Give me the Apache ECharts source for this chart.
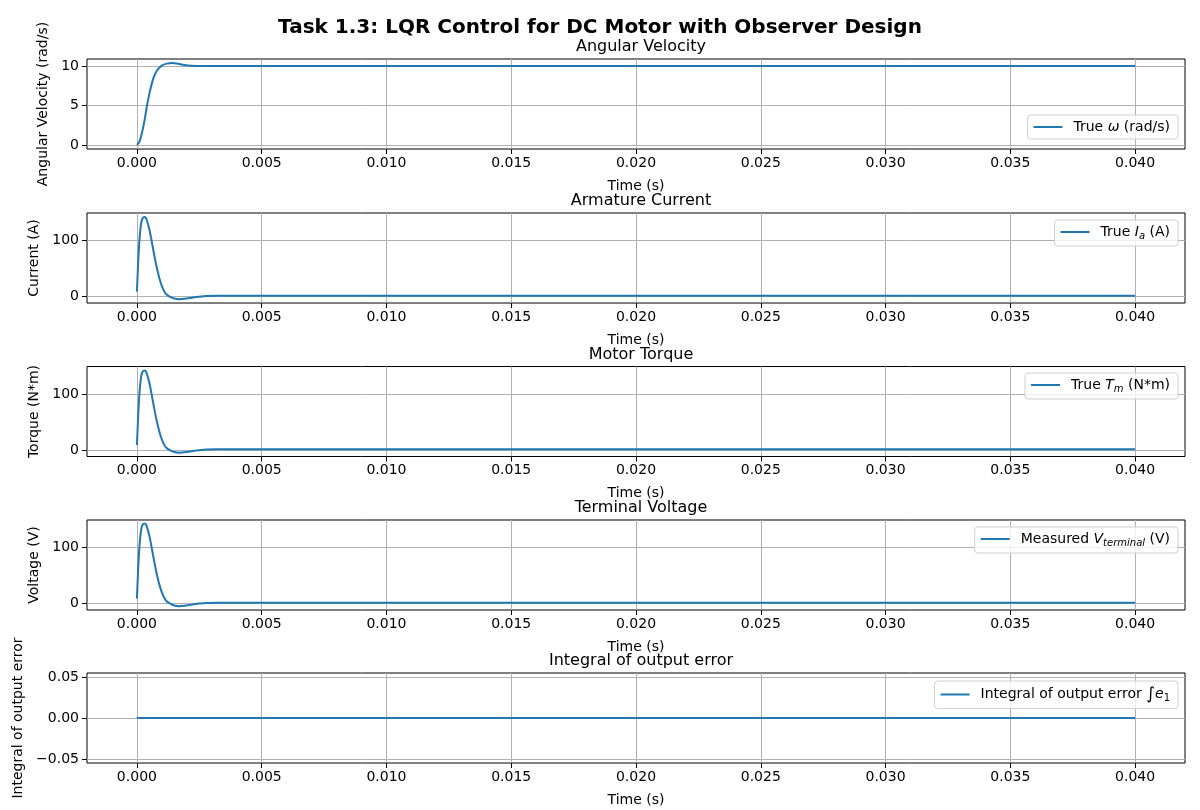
<!DOCTYPE html>
<html><head><meta charset="utf-8">
<script src="https://cdn.jsdelivr.net/npm/echarts@6/dist/echarts.min.js"></script>
<style>html,body{margin:0;padding:0;background:#fff}#c{width:1200px;height:810px}</style>
</head><body><div id="c"></div>
<script>
// ---- data (time in seconds) ----
const timeVel = [0,0.0001,0.0002,0.0003,0.0004,0.0005,0.0006,0.0007,0.0008,0.0009,0.0010,0.0011,0.0012,0.0013,0.0014,0.0015,0.0017,0.0019,0.0022,0.0026,0.0030,0.0040];
const velocity = [0,0.4,1.5,3.0,4.9,6.5,7.8,8.8,9.4,9.8,10.05,10.2,10.3,10.36,10.38,10.35,10.25,10.13,10.04,10.0,9.99,10.0];
const timeCur = [0,0.00005,0.0001,0.00015,0.0002,0.00025,0.0003,0.00035,0.0004,0.0005,0.0006,0.0007,0.0008,0.0009,0.0010,0.0011,0.0012,0.0013,0.0014,0.0015,0.0016,0.0017,0.0018,0.0020,0.0022,0.0025,0.0028,0.0032,0.0040];
const current = [9,60,100,125,137,141,142,141,136,120,97,73,51,33,19,9,3.5,0.5,-1.8,-3.3,-4.2,-4.5,-4.3,-3.2,-1.8,0,1.2,1.6,1.6];
const torque = [9,60,100,125,137,141,142,141,136,120,97,73,51,33,19,9,3.5,0.5,-1.8,-3.3,-4.2,-4.5,-4.3,-3.2,-1.8,0,1.2,1.6,1.6];
const voltage = [9,61,101,126,138,142,143,142,137,121,98,74,52,34,20,10,4,1,-1.5,-3.2,-4.1,-4.4,-4.2,-3.1,-1.7,0.1,1.3,1.7,1.7];
const timeEnd = 0.040;
const timeErr = [0,0.040];
const integralErr = [0,0];
const xTicks = [0,0.005,0.010,0.015,0.020,0.025,0.030,0.035,0.040];
const yTicks1 = [0,5,10];
const yTicks2 = [0,100];
const yTicks5 = [-0.05,0,0.05];
const titles = ['Angular Velocity','Armature Current','Motor Torque','Terminal Voltage','Integral of output error'];
const yNames = ['Angular Velocity (rad/s)','Current (A)','Torque (N*m)','Voltage (V)','Integral of output error'];
const seriesNames = ['True omega','True Ia','True Tm','Measured Vterminal','Integral e1'];

function withEnd(t, v){ // extend the settled value to the end of the simulation
  const d = t.map((x,i)=>[x,v[i]]);
  if (t[t.length-1] < timeEnd) d.push([timeEnd, v[v.length-1]]);
  return d;
}
const datasets = [
  withEnd(timeVel, velocity),
  withEnd(timeCur, current),
  withEnd(timeCur, torque),
  withEnd(timeCur, voltage),
  timeErr.map((x,i)=>[x,integralErr[i]])
];
const yRanges = [[-0.52,10.89],[-11.3,149.3],[-11.3,149.3],[-11.3,149.3],[-0.055,0.055]];
const yTickSets = [yTicks1,yTicks2,yTicks2,yTicks2,yTicks5];
const legendLabels = [
  '{n|True }{i|ω}{n| (rad/s)}',
  '{n|True }{i|I}{s|a}{n| (A)}',
  '{n|True }{i|T}{s|m}{n| (N*m)}',
  '{n|Measured }{i|V}{s|terminal}{n| (V)}',
  '{n|Integral of output error }{b|∫}{i|e}{t|1}'
];

const FONT = 'DejaVu Sans';
const tops = [59,213,366.5,520,673];
const H = 90, LEFT = 87, W = 1098;
const legendTops = [115,220,373,527,681];

const grids=[], xAxes=[], yAxes=[], series=[], legends=[], titleArr=[];
titleArr.push({text:'Task 1.3: LQR Control for DC Motor with Observer Design', left:'center', top:13,
  textStyle:{fontFamily:FONT,fontSize:20,fontWeight:'bold',color:'#000'}});
for (let k=0;k<5;k++){
  grids.push({left:LEFT, top:tops[k], width:W, height:H, show:true, borderColor:'#000', borderWidth:1, backgroundColor:'transparent'});
  titleArr.push({text:titles[k], left:LEFT+W/2, textAlign:'center', top:tops[k]-25,
    textStyle:{fontFamily:FONT,fontSize:16,fontWeight:'normal',color:'#000'}});
  xAxes.push({type:'value', gridIndex:k, min:-0.002, max:0.042, position:'bottom',
    name:'Time (s)', nameLocation:'middle', nameGap:30,
    nameTextStyle:{fontFamily:FONT,fontSize:14,color:'#000'},
    axisLine:{show:false, onZero:false},
    axisTick:{show:true, length:5, inside:false, lineStyle:{color:'#000'}, customValues:xTicks},
    axisLabel:{show:true, customValues:xTicks, margin:7, fontFamily:FONT, fontSize:14, color:'#000', formatter:v=>v.toFixed(3)},
    splitLine:{show:true, lineStyle:{color:'#b0b0b0', width:1}}
  });
  const yt = yTickSets[k];
  yAxes.push({type:'value', gridIndex:k, min:yRanges[k][0], max:yRanges[k][1], position:'left',
    name:yNames[k], nameLocation:'middle', nameRotate:90,
    nameGap: k===4 ? 59 : (k===0 ? 33 : 39),
    nameTextStyle:{fontFamily:FONT,fontSize:14,color:'#000'},
    axisLine:{show:false, onZero:false},
    axisTick:{show:true, length:5, inside:false, lineStyle:{color:'#000'}, customValues:yt},
    axisLabel:{show:true, customValues:yt, margin:8, fontFamily:FONT, fontSize:14, color:'#000',
      formatter: v => k===4 ? v.toFixed(2).replace('-','\u2212') : String(Math.round(v))},
    splitLine:{show:true, lineStyle:{color:'#b0b0b0', width:1}}
  });
  series.push({type:'line', name:seriesNames[k], xAxisIndex:k, yAxisIndex:k, data:datasets[k],
    showSymbol:false, symbol:'none', smooth:0.35, lineStyle:{color:'#1f77b4', width:2}, itemStyle:{color:'#1f77b4'}, animation:false});
  const lab = legendLabels[k];
  legends.push({data:[seriesNames[k]], right:22, top:legendTops[k], orient:'vertical',
    icon:'rect', itemWidth:29, itemHeight:2, itemGap:0,
    backgroundColor:'rgba(255,255,255,0.8)', borderColor:'#d0d0d0', borderWidth:1, borderRadius:3,
    padding:[5,8,5,6], selectedMode:false,
    formatter: () => lab,
    textStyle:{fontFamily:FONT, fontSize:14, color:'#000', padding:[0,0,0,6],
      rich:{
        n:{fontFamily:FONT,fontSize:14,color:'#000'},
        i:{fontFamily:FONT,fontSize:14,fontStyle:'italic',color:'#000'},
        s:{fontFamily:FONT,fontSize:10,fontStyle:'italic',color:'#000',padding:[8,0,0,0]},
        t:{fontFamily:FONT,fontSize:10,color:'#000',padding:[8,0,0,0]},
        b:{fontFamily:FONT,fontSize:17,color:'#000'}
      }}
  });
}
const chart = echarts.init(document.getElementById('c'), null, {renderer:'canvas'});
chart.setOption({animation:false, backgroundColor:'#fff', title:titleArr, grid:grids, xAxis:xAxes, yAxis:yAxes, series:series, legend:legends});
</script></body></html>
